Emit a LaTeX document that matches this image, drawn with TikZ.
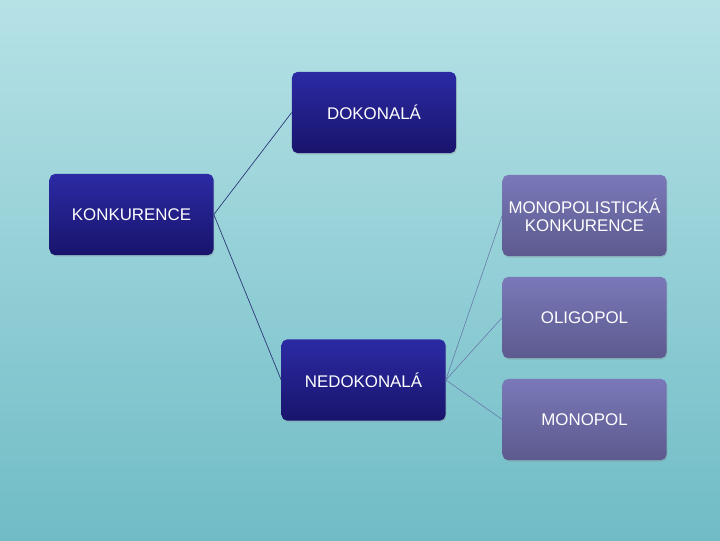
\documentclass[tikz,border=0pt]{standalone}
\usepackage{fontspec}
\setmainfont{Liberation Sans}
\usetikzlibrary{shadows}
\definecolor{bgtop}{RGB}{182,226,230}
\definecolor{bgbottom}{RGB}{112,188,198}
\definecolor{darktop}{RGB}{44,42,164}
\definecolor{darkbottom}{RGB}{24,20,108}
\definecolor{lighttop}{RGB}{122,120,184}
\definecolor{lightbottom}{RGB}{92,90,142}
\definecolor{darkline}{RGB}{44,58,120}
\definecolor{lightline}{RGB}{104,118,172}
\begin{document}
\begin{tikzpicture}[x=0.025cm, y=-0.025cm,
    box/.style={rounded corners=4pt, minimum width=4.1cm, minimum height=2.03cm,
        align=center, text=white, font=\fontsize{12}{13}\selectfont,
        drop shadow={opacity=0.25, shadow xshift=0.6pt, shadow yshift=-1pt}},
    darkbox/.style={box, top color=darktop, bottom color=darkbottom},
    lightbox/.style={box, top color=lighttop, bottom color=lightbottom},
    darklink/.style={draw=darkline, line width=0.5pt},
    lightlink/.style={draw=lightline, line width=0.4pt}]
        \shade[top color=bgtop, bottom color=bgbottom] (0,0) rectangle (720,540);
        \useasboundingbox (0,0) rectangle (720,540);

        \node[darkbox] (konk) at (131.5,214.5) {KONKURENCE};
        \node[darkbox] (dok) at (374,112.5) {DOKONALÁ};
        \node[darkbox] (nedok) at (363.5,380) {NEDOKONALÁ};

        \node[lightbox] (monokonk) at (584.5,215.5) {MONOPOLISTICKÁ \\ KONKURENCE};
        \node[lightbox] (oligo) at (584.5,317.5) {OLIGOPOL};
        \node[lightbox] (mono) at (584.5,419.5) {MONOPOL};

        \draw[darklink] (konk.east) -- (dok.west);
        \draw[darklink] (konk.east) -- (nedok.west);

        \draw[lightlink] (nedok.east) -- (monokonk.west);
        \draw[lightlink] (nedok.east) -- (oligo.west);
        \draw[lightlink] (nedok.east) -- (mono.west);
    \end{tikzpicture}
\end{document}
